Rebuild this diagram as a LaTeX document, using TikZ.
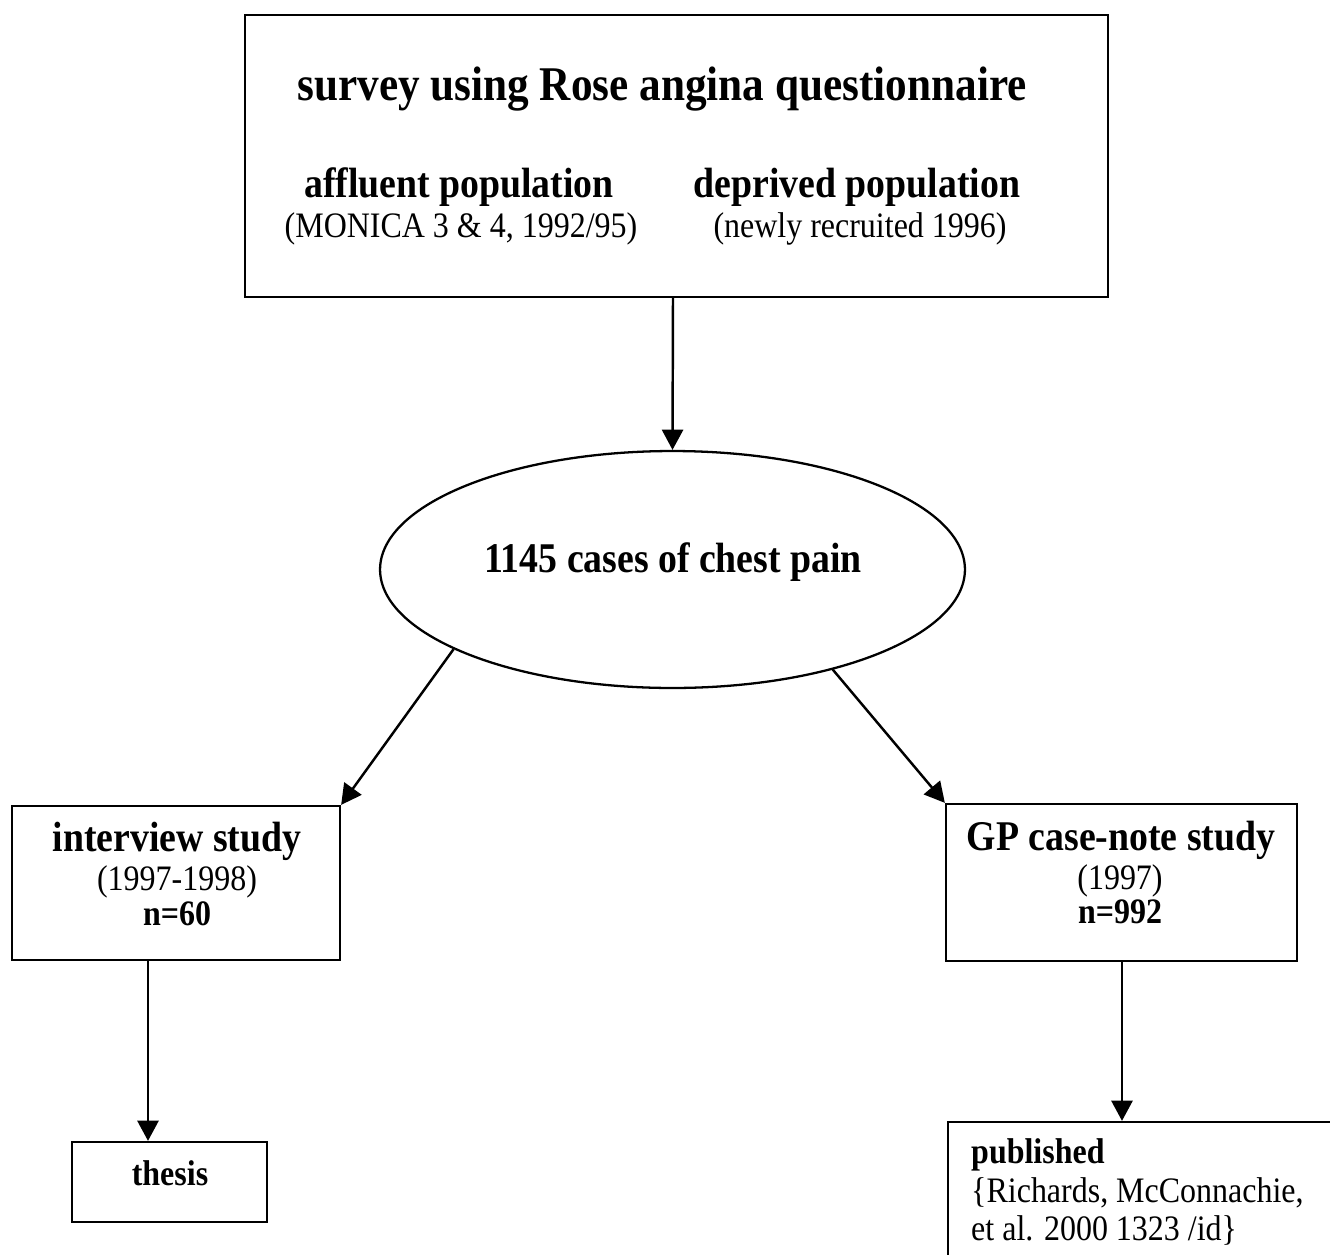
\documentclass[tikz,border=0pt]{standalone}
\usepackage{fontspec}
\setmainfont{Liberation Serif}
\usetikzlibrary{arrows.meta,shapes.geometric,fit}
\newcommand{\tall}[1]{\scalebox{1}[1.12]{#1}}
\begin{document}
\begin{tikzpicture}[x=0.02cm,y=-0.02cm,
  line width=1.4pt,
  box/.style={draw,rectangle,inner sep=0pt,line width=1.3pt},
  arr/.style={-{Triangle[length=11.5pt,width=12pt]},line width=1.4pt},
  tbig/.style={font=\fontsize{24.6}{29}\selectfont\bfseries,inner sep=0pt,anchor=base},
  tbold/.style={font=\fontsize{21.5}{26}\selectfont\bfseries,inner sep=0pt,anchor=base},
  tsmall/.style={font=\fontsize{18.2}{22}\selectfont,inner sep=0pt,anchor=base},
  tsmallb/.style={font=\fontsize{18.2}{22}\selectfont\bfseries,inner sep=0pt,anchor=base},
]
\useasboundingbox (0,0) rectangle (1330,1255);
\clip (0,0) rectangle (1330,1255);
% boxes
\node[box,fit={(245,15)(1108,297)}] (top) {};
\node[draw,ellipse,inner sep=0pt,line width=1.3pt,minimum width=11.7cm,minimum height=4.74cm] (ell) at (672.5,569.5) {};
\node[box,fit={(12,806)(340,960)}] (lbox) {};
\node[box,fit={(946,804)(1297,961)}] (rbox) {};
\node[box,fit={(72,1142)(267,1222)}] (thesis) {};
\node[box,fit={(948,1122)(1420,1320)}] (pub) {};
% texts
\node[tbig] (t1) at (662,100) {\tall{survey using Rose angina questionnaire}};
\node[tbold] (t2) at (459,197) {\tall{affluent population}};
\node[tsmall] (t3) at (461,237) {\tall{(MONICA 3 \& 4, 1992/95)}};
\node[tbold] (t4) at (857,197) {\tall{deprived population}};
\node[tsmall] (t5) at (860,237) {\tall{(newly recruited 1996)}};
\node[tbold] (e1) at (673,572) {\tall{1145 cases of chest pain}};
\node[tbold] (l1) at (177,851) {\tall{interview study}};
\node[tsmall] (l2) at (177,890) {\tall{(1997-1998)}};
\node[tsmallb] (l3) at (177,925) {\tall{n=60}};
\node[tsmallb] (th) at (170,1185) {\tall{thesis}};
\node[tbold] (r1) at (1121,850) {\tall{GP case-note study}};
\node[tsmall] (r2) at (1120,889) {\tall{(1997)}};
\node[tsmallb] (r3) at (1120,923) {\tall{n=992}};
\node[tsmallb,anchor=base west] (p1) at (970,1163) {\tall{published}};
\node[tsmall,anchor=base west] (p2) at (970,1202) {\tall{\{Richards, McConnachie,}};
\node[tsmall,anchor=base west] (p3) at (970,1240) {\tall{et al. 2000 1323 /id\}}};
% connectors
\coordinate (cx) at (673,0);
\coordinate (lx) at (148,0);
\coordinate (rx) at (1122,0);
\draw[arr] (top.south -| cx) -- (ell.north);
\draw[arr] (ell.200.7) -- (lbox.north east);
\draw[arr] (ell.328) -- (rbox.north west);
\draw[arr] (lbox.south -| lx) -- (thesis.north -| lx);
\draw[arr] (rbox.south -| rx) -- (pub.north -| rx);
\end{tikzpicture}
\end{document}
